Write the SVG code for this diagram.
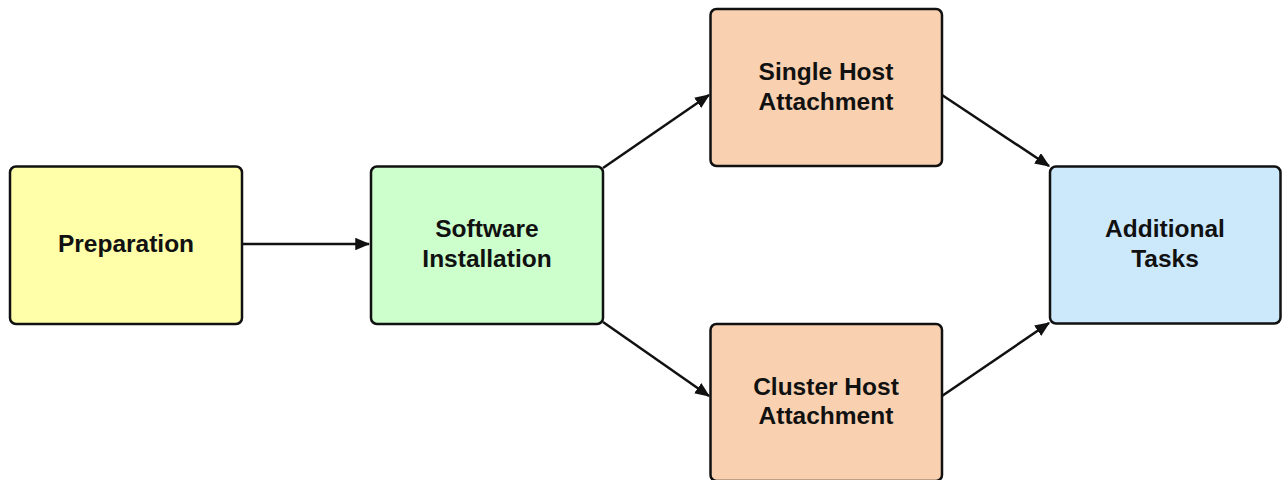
<svg xmlns="http://www.w3.org/2000/svg" width="1283" height="480" viewBox="0 0 1283 480">
  <style>
    .box { stroke: #111; stroke-width: 2.5; }
    .lbl { font-family: "Liberation Sans", Arial, sans-serif; font-weight: bold; font-size: 24.5px; fill: #111; text-anchor: middle; }
    .edge { stroke: #111; stroke-width: 2.5; fill: none; marker-end: url(#arrow); }
  </style>
  <defs>
    <marker id="arrow" viewBox="0 0 12 10" refX="11" refY="5" markerWidth="6" markerHeight="5" orient="auto" markerUnits="strokeWidth">
      <path d="M0,0 L12,5 L0,10 z" fill="#111"/>
    </marker>
  </defs>
  <rect width="1283" height="480" fill="#fff"/>

  <g id="connectors">
    <line class="edge" x1="243" y1="244" x2="369" y2="244"/>
    <line class="edge" x1="603" y1="168" x2="709" y2="95"/>
    <line class="edge" x1="603" y1="322" x2="709" y2="396"/>
    <line class="edge" x1="942" y1="95" x2="1049" y2="166"/>
    <line class="edge" x1="942" y1="396" x2="1049" y2="323"/>
  </g>

  <g id="preparation">
    <rect class="box" x="10" y="166.5" width="232" height="157.5" rx="6" fill="#ffffaa"/>
    <text class="lbl" x="126" y="252">Preparation</text>
  </g>

  <g id="software-installation">
    <rect class="box" x="371" y="166.5" width="232" height="157.5" rx="6" fill="#ccffcc"/>
    <text class="lbl" x="487" y="237">Software</text>
    <text class="lbl" x="487" y="266.5">Installation</text>
  </g>

  <g id="single-host">
    <rect class="box" x="710.5" y="9" width="231.5" height="157" rx="6" fill="#f9d1b0"/>
    <text class="lbl" x="826" y="80">Single Host</text>
    <text class="lbl" x="826" y="109.5">Attachment</text>
  </g>

  <g id="cluster-host">
    <rect class="box" x="710.5" y="324" width="231.5" height="157" rx="6" fill="#f9d1b0"/>
    <text class="lbl" x="826" y="394.5">Cluster Host</text>
    <text class="lbl" x="826" y="424">Attachment</text>
  </g>

  <g id="additional-tasks">
    <rect class="box" x="1050" y="166.5" width="230.5" height="157" rx="6" fill="#cce9fc"/>
    <text class="lbl" x="1165" y="237">Additional</text>
    <text class="lbl" x="1165" y="266.5">Tasks</text>
  </g>
</svg>
